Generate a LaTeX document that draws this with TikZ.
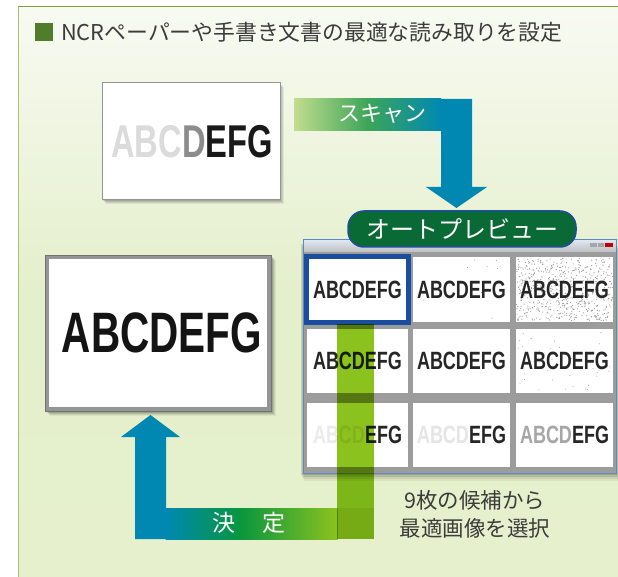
\documentclass[tikz,border=0pt]{standalone}
\usepackage{fontspec}
\setmainfont{Noto Sans CJK JP}
\newfontfamily\docfont{Liberation Sans}
\usetikzlibrary{calc,positioning}
\definecolor{panelTop}{HTML}{F8FAF2}
\definecolor{panelMid}{HTML}{E4EFCB}
\definecolor{panelBot}{HTML}{E6F0CD}
\definecolor{lineTop}{HTML}{7FA040}
\definecolor{lineLeft}{HTML}{A8C27C}
\definecolor{titleSq}{HTML}{4F7D2A}
\definecolor{textGray}{HTML}{3C3C3C}
\definecolor{scanA}{HTML}{C2DD8E}
\definecolor{scanB}{HTML}{3DA558}
\definecolor{arrowBlue}{HTML}{0088B2}
\definecolor{decGreen}{HTML}{08963E}
\definecolor{bandLime}{HTML}{8CC21E}
\definecolor{prevGreen}{HTML}{0A6A36}
\definecolor{prevBlue}{HTML}{1F4E9A}
\definecolor{winGray}{HTML}{9C9C9C}
\definecolor{winBlue}{HTML}{5F88C2}
\definecolor{selBlue}{HTML}{1A4DA0}
\definecolor{docGray}{HTML}{959595}
\tikzset{
  celltext/.style={inner sep=0pt,font=\docfont\bfseries\fontsize{25}{25}\selectfont,xscale=0.72,text=black!85},
  cellbox/.style={fill=white,inner sep=0pt,minimum height=64},
  jptext/.style={font=\fontsize{#1}{#1}\selectfont}
}
\begin{document}
\begin{tikzpicture}[x=1pt,y=-1pt]
\useasboundingbox (0,0) rectangle (618,577);
%Hintergrund und Rahmen
\shade[top color=panelTop,bottom color=panelBot,middle color=panelMid] (18,7) rectangle (618,577);
\draw[lineLeft,line width=1.5] (18.5,577) -- (18.5,7);
\draw[lineTop,line width=1.5] (18,6.5) -- (618,6.5);
\fill[titleSq] (35,23) rectangle (53,41);
\node[jptext=21.8,text=textGray,anchor=west,inner sep=0pt] (title) at (61,32) {NCRペーパーや手書き文書の最適な読み取りを設定};

%kleines Dokument (Scan)
\foreach \o/\op in {1/0.10,2/0.10,3/0.08,4/0.06}{
  \fill[black,opacity=\op] (102+\o,83+\o) rectangle (280+\o,200+\o);
}
\node[fill=white,draw=docGray,line width=1,minimum width=178,minimum height=117,inner sep=0pt] (smalldoc) at (191,141.5) {};
\node[inner sep=0pt,font=\docfont\bfseries\fontsize{46}{46}\selectfont,xscale=0.71] (smalltext) at (192,141.5)
  {{\color{black!14}ABC}{\color{black!45}D}{\color{black!90}EFG}};

%Pfeil Scan
\shade[left color=scanA,right color=arrowBlue,middle color=scanB] (294,99) rectangle (441,131);
\fill[arrowBlue] (441,99) -- (472,99) -- (472,187) -- (487,187) -- (456.5,208) -- (426,187) -- (441,187) -- cycle;
\node[jptext=22,text=white,inner sep=0pt] (scanlabel) at (382,114) {スキャン};

%Fenster mit 9 Kandidaten
\foreach \o/\op in {2/0.12,4/0.10,6/0.08,8/0.05}{
  \fill[black,opacity=\op] (300+\o*0.5,242+\o) rectangle (616+\o*0.5,473+\o);
}
\fill[winGray] (303,240) rectangle (616,473);
\shade[top color=white!80!winBlue,bottom color=black!25] (303,240) rectangle (616,252);
\draw[winBlue,line width=1] (303,240) rectangle (616,473);
\fill[black!35] (590,243) rectangle (597,247);
\fill[black!35] (598,243) rectangle (604,247);
\fill[red!75!black] (605,243) rectangle (613,247);
\foreach \r/\yc/\h in {1/289.5/65,2/361/64,3/435/64}{
  \foreach \c/\xc/\w in {1/357.5/101,2/461.5/97,3/564.5/97}{
    \node[cellbox,minimum width=\w,minimum height=\h] (c\r\c) at (\xc,\yc) {};
  }
}
\pgfmathsetseed{42}
\foreach \i in {1,...,600}{
  \fill[black!40] ($(c13.center)+(rand*48,rand*31)$) circle (0.6pt);
}
\foreach \i in {1,...,40}{
  \fill[black!40] ($(c23.center)+(rand*46,rand*30)$) circle (0.5pt);
}
\foreach \i in {1,...,8}{
  \fill[black!45] ($(c12.center)+(rand*46,rand*30)$) circle (0.5pt);
}
\node[celltext] at (c11) {ABCDEFG};
\node[celltext] at (c12) {ABCDEFG};
\node[celltext] at (c13) {ABCDEFG};
\node[celltext] at (c21) {ABCDEFG};
\node[celltext] at (c22) {ABCDEFG};
\node[celltext] at (c23) {ABCDEFG};
\node[celltext] at (c31) {{\color{black!8}ABCD}EFG};
\node[celltext] at (c32) {{\color{black!10}ABCD}EFG};
\node[celltext] at (c33) {{\color{black!35}ABCD}EFG};
\draw[selBlue,line width=5] (c11.north west) rectangle (c11.south east);

\node[fill=prevGreen,draw=prevBlue,line width=1.5,rounded corners=16,minimum width=228,minimum height=36,
  text=white,jptext=24,inner sep=0pt] (preview) at (462,229) {オートプレビュー};

%grosses Dokument (Ergebnis)
\foreach \o/\op in {1/0.12,2/0.12,3/0.10,4/0.08,5/0.05}{
  \fill[black,opacity=\op] (45+\o,255+\o) rectangle (271+\o,411+\o);
}
\node[fill=white,draw=docGray,line width=4,minimum width=222,minimum height=152,inner sep=0pt] (bigdoc) at (158,333) {};
\draw[black!55,line width=0.6] (45,255) rectangle (271,411);
\node[inner sep=0pt,font=\docfont\bfseries\fontsize{57}{57}\selectfont,xscale=0.71,text=black!92] (bigtext) at (162,332.5) {ABCDEFG};

%Pfeil Entscheidung
\fill[arrowBlue] (135,539) -- (135,437) -- (121,437) -- (150.5,415) -- (180,437) -- (166,437) -- (166,508) -- (166.5,539) -- cycle;
\shade[left color=arrowBlue,right color=decGreen] (165.5,508) rectangle (240,539);
\shade[left color=decGreen,right color=bandLime] (239.5,508) rectangle (337.5,539);
\fill[bandLime,blend mode=multiply] (337,324) rectangle (374,539);
\fill[black,opacity=0.06] (337,508) rectangle (374,539);
\node[jptext=23,text=white,inner sep=0pt] (decidelabel) at (249,523) {決\hspace{27pt}定};

\node[text=textGray,align=center,inner sep=0pt,font=\fontsize{21.5}{28}\selectfont] (note) at (475,514) {9枚の候補から\\最適画像を選択};
\end{tikzpicture}
\end{document}
